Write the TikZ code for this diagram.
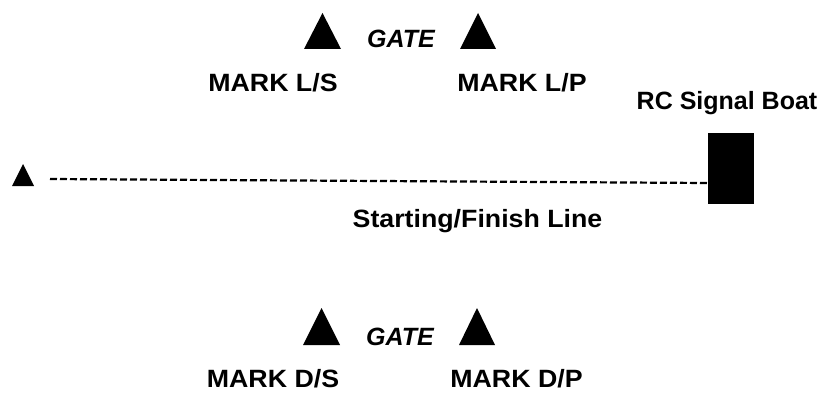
\documentclass[tikz,border=0pt]{standalone}
\usepackage{fontspec}
\setmainfont{Liberation Sans}
\newfontfamily\widefont{Liberation Sans}[FakeStretch=1.07]
\begin{document}
\begin{tikzpicture}[x=1pt,y=-1pt,
    lbl/.style={font=\widefont\bfseries\fontsize{25}{30}\selectfont, anchor=base, inner sep=0pt},
    boatlbl/.style={font=\bfseries\fontsize{25}{30}\selectfont, anchor=base, inner sep=0pt},
    gatelbl/.style={font=\bfseries\itshape\fontsize{25}{30}\selectfont, anchor=base, inner sep=0pt},
    finish/.style={dash pattern=on 7pt off 3pt, line width=2.2pt}]
    \useasboundingbox (0,0) rectangle (832,393);

    % Upwind gate
    \fill (322.5,13) -- (341,49) -- (304,49) -- cycle;
    \fill (478,13) -- (496,49) -- (460,49) -- cycle;
    \node[gatelbl] (gateL) at (401,48) {GATE};
    \node[lbl] (markLS) at (273,92) {MARK L/S};
    \node[lbl] (markLP) at (522,92) {MARK L/P};

    % Pin end
    \fill (23,164) -- (34,186) -- (12,186) -- cycle;

    % Committee boat
    \node[fill=black, minimum width=46pt, minimum height=71pt, inner sep=0pt] (boat) at (731,168.5) {};
    \node[boatlbl] (boatname) at (727,110) {RC Signal Boat};

    % Start / finish line
    \coordinate (lineL) at (50,179);
    \coordinate (lineR) at (708,183);
    \draw[finish] (lineL) -- (lineR);
    \node[lbl] (startfin) at (477.5,227) {Starting/Finish Line};

    % Downwind gate
    \fill (321.5,308) -- (340,345) -- (303,345) -- cycle;
    \fill (477,308) -- (495,345) -- (459,345) -- cycle;
    \node[gatelbl] (gateD) at (400,345) {GATE};
    \node[lbl] (markDS) at (273,387) {MARK D/S};
    \node[lbl] (markDP) at (516.5,387) {MARK D/P};
\end{tikzpicture}
\end{document}
